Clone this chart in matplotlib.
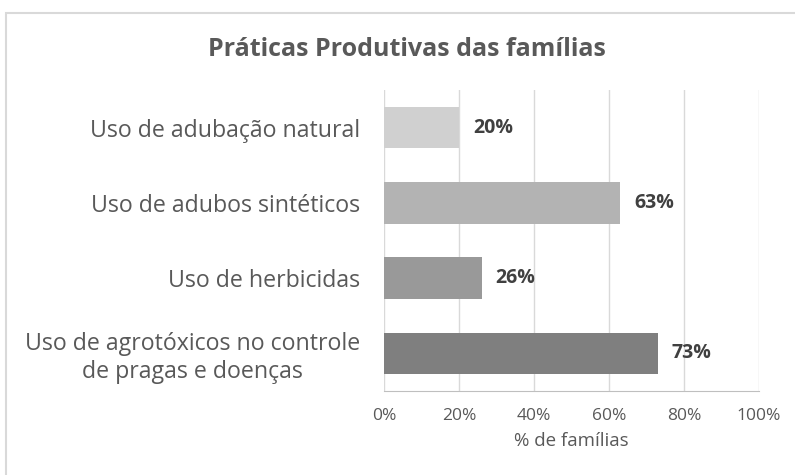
import matplotlib
matplotlib.use("Agg")
import matplotlib.pyplot as plt
from matplotlib.patches import Rectangle
from matplotlib.ticker import PercentFormatter

categories = ["Uso de adubação natural",
              "Uso de adubos sintéticos",
              "Uso de herbicidas",
              "Uso de agrotóxicos no controle\nde pragas e doenças"]
values = [20, 63, 26, 73]
bar_colors = ["#d0d0d0", "#b3b3b3", "#999999", "#7f7f7f"]
ticks = [0, 20, 40, 60, 80, 100]

plt.rcParams['font.family'] = ['Open Sans', 'DejaVu Sans']

W, H = 795, 475
fig = plt.figure(figsize=(W / 100, H / 100), dpi=100)
# axes box in pixels: x 384..759, y 90..391
ax = fig.add_axes([384 / W, 1 - 391 / H, (759 - 384) / W, (391 - 90) / H])

# outer chart border (cut off at right/bottom like the reference)
fig.patches.append(Rectangle((6 / W, -0.05), 1.1, 1 - 13 / H + 0.05,
                             transform=fig.transFigure, fill=False,
                             edgecolor="#d9d9d9", linewidth=1.5))

ypos = list(range(len(categories)))
bars = ax.barh(ypos, values, height=0.55, color=bar_colors, zorder=3)
for b, v in zip(bars, values):
    ax.text(v + 3.7, b.get_y() + b.get_height() / 2, f"{v}%",
            va="center", ha="left", fontsize=14, fontweight="bold",
            color="#404040")

ax.set_xlim(0, 100)
ax.set_ylim(len(categories) - 0.5, -0.5)
ax.set_yticks(ypos)
ax.set_yticklabels(categories, fontsize=16.7, color="#595959",
                   multialignment="center", linespacing=1.2)
ax.set_xticks(ticks)
ax.xaxis.set_major_formatter(PercentFormatter(decimals=0))
ax.tick_params(axis="x", labelsize=12.5, colors="#595959", length=0, pad=12)
ax.tick_params(axis="y", length=0, pad=17)
ax.grid(axis="x", color="#d9d9d9", linewidth=1, zorder=0)
for s in ["top", "right", "left"]:
    ax.spines[s].set_visible(False)
ax.spines["bottom"].set_color("#bfbfbf")
ax.set_xlabel("% de famílias", fontsize=13.5, color="#595959", labelpad=6)

fig.text(407 / W, 1 - 50 / H, "Práticas Produtivas das famílias",
         ha="center", va="center", fontsize=18, fontweight="bold",
         color="#595959")

fig.savefig("out.png", dpi=100)
